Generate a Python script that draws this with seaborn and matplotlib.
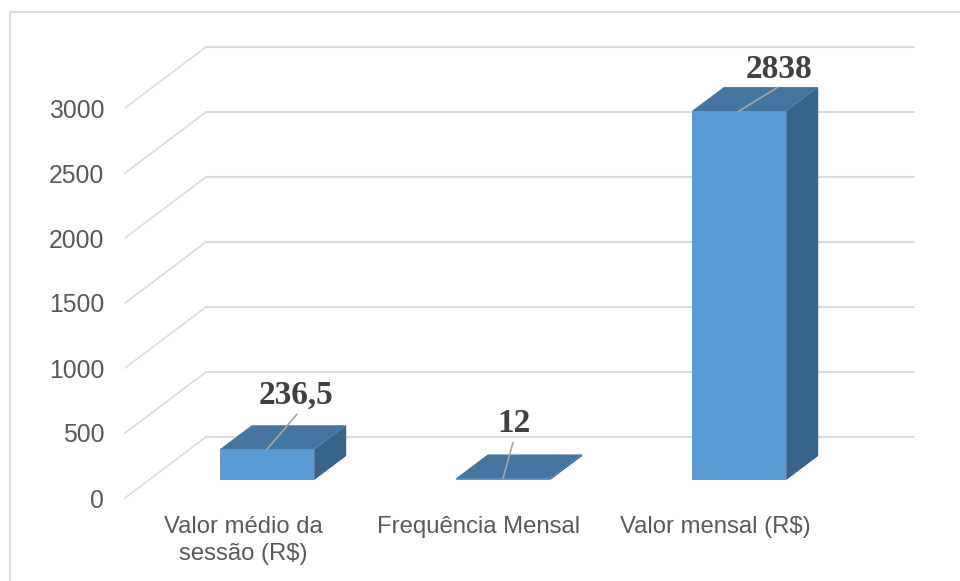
import matplotlib
matplotlib.use("Agg")
import pandas as pd
import seaborn as sns
import matplotlib.pyplot as plt
from matplotlib.patches import Polygon

categories = ["Valor médio da\nsessão (R$)", "Frequência Mensal", "Valor mensal (R$)"]
values = [236.5, 12, 2838]
value_labels = ["236,5", "12", "2838"]
y_ticks = [0, 500, 1000, 1500, 2000, 2500, 3000]

W, H = 960, 581
PLOT_W = 708
PX_X = PLOT_W / 3   # pixels per category
PX_Y = 390 / 3000   # pixels per value unit

sns.set_theme(style="white")
plt.rcParams['font.family'] = ['Liberation Sans', 'DejaVu Sans']

fig = plt.figure(figsize=(W / 100, H / 100), dpi=100, facecolor="white")


def make_axes(left, bottom_y):
    # bottom_y is measured from the top of the image, like in the screenshot
    a = fig.add_axes([left / W, (H - bottom_y) / H, PLOT_W / W, 390 / H])
    a.set_xlim(-0.5, 2.5)
    a.set_ylim(0, 3000)
    a.patch.set_visible(False)
    sns.despine(ax=a, left=True, bottom=True, top=True, right=True)
    return a


# front plane: ticks, labels, floor and wall lines
ax_f = make_axes(125, 498)
grid_c = "#DCDCDC"
dx = 81 / PX_X
dy = 61 / PX_Y
for t in y_ticks:
    ax_f.plot([-0.5, -0.5 + dx], [t, t + dy], color=grid_c, lw=1.2, clip_on=False)
    ax_f.plot([-0.5 + dx, 2.5 + dx], [t + dy, t + dy], color=grid_c, lw=1.5, clip_on=False)
ax_f.set_xticks(range(3))
ax_f.set_xticklabels(categories, fontsize=17.2, color="#595959", linespacing=1.3)
ax_f.set_yticks(y_ticks)
ax_f.set_yticklabels([str(t) for t in y_ticks], fontsize=17.8, color="#595959")
ax_f.tick_params(axis="x", length=0, pad=13)
ax_f.tick_params(axis="y", length=0, pad=15)

# bar plane, a bit further back than the front plane
ax = make_axes(149, 480)
df = pd.DataFrame({"cat": categories, "val": values})
sns.barplot(data=df, x="cat", y="val", ax=ax, color="#5B9BD5", saturation=1, width=0.4, zorder=3, linewidth=0)
ax.set_xlim(-0.5, 2.5)
ax.set_ylim(0, 3000)
ax.set_xlabel("")
ax.set_ylabel("")
ax.set_xticks([])
ax.set_yticks([])

# depth of the bars
bx = 32 / PX_X
by = 24 / PX_Y
for p in list(ax.patches):
    x0, x1 = p.get_x(), p.get_x() + p.get_width()
    v = p.get_height()
    top = [(x0, v), (x1, v), (x1 + bx, v + by), (x0 + bx, v + by)]
    side = [(x1, 0), (x1 + bx, by), (x1 + bx, v + by), (x1, v)]
    ax.add_patch(Polygon(top, fc="#4475A1", ec="none", zorder=4, clip_on=False))
    ax.add_patch(Polygon(side, fc="#38638A", ec="none", zorder=4, clip_on=False))

# data labels with leader lines
text_off = [(29, 54), (11, 55), (40, 42)]
line_end = [(30, 35), (10, 36), (39, 24)]
for i in range(3):
    ax.annotate("", xy=(i, values[i]), xycoords="data", xytext=line_end[i], textcoords="offset pixels",
                arrowprops=dict(arrowstyle="-", color="#A6A6A6", lw=1.2, shrinkA=0, shrinkB=0), zorder=6)
    ax.annotate(value_labels[i], xy=(i, values[i]), xycoords="data", xytext=text_off[i], textcoords="offset pixels",
                ha="center", va="center", fontsize=24, fontweight="bold", color="#404040",
                family=["Liberation Serif", "DejaVu Serif"], annotation_clip=False, zorder=7)

# outer frame of the chart (only top and left are visible)
fig.add_artist(plt.Line2D([10 / W, 10 / W], [0, (H - 12) / H], color=grid_c, lw=1.5))
fig.add_artist(plt.Line2D([10 / W, 1], [(H - 12) / H, (H - 12) / H], color=grid_c, lw=1.5))

fig.savefig("out.png", dpi=100)
